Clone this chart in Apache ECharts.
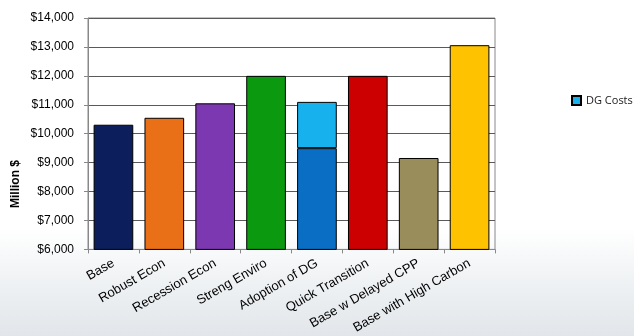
<!DOCTYPE html>
<html>
<head>
<meta charset="utf-8">
<script src="https://cdn.jsdelivr.net/npm/echarts@6/dist/echarts.min.js"></script>
<style>
  html, body { margin: 0; padding: 0; background: #ffffff; }
  #chart { width: 634px; height: 336px; }
</style>
</head>
<body>
<div id="chart"></div>
<script>
// Scenario cost comparison (Million $)
const categories = ['Base', 'Robust Econ', 'Recession Econ', 'Streng Enviro', 'Adoption of DG', 'Quick Transition', 'Base w Delayed CPP', 'Base with High Carbon'];
const baseCosts = [10310, 10550, 11050, 12000, 9500, 12000, 9160, 13060];
const dgCosts = [0, 0, 0, 0, 1600, 0, 0, 0];
const barColors = ['#0c1f5c', '#ea7018', '#7b38b0', '#0a990f', '#0a6fc4', '#cc0000', '#9a8d5c', '#ffc200'];
const dgColor = '#17b2ee';
const yTicks = { min: 6000, max: 14000, step: 1000 };

const chart = echarts.init(document.getElementById('chart'), null, { renderer: 'canvas' });

const fmt = v => '$' + v.toLocaleString('en-US');

chart.setOption({
  animation: false,
  textStyle: { fontFamily: 'Liberation Sans, Arial, sans-serif' },
  graphic: [
    {
      type: 'rect', z: -10, silent: true,
      shape: { x: 0, y: 0, width: 634, height: 336 },
      style: {
        fill: new echarts.graphic.LinearGradient(0, 0, 0, 1, [
          { offset: 0, color: '#ffffff' },
          { offset: 0.68, color: '#ffffff' },
          { offset: 0.85, color: '#eef1f3' },
          { offset: 1, color: '#e2e6ea' }
        ])
      }
    },
    {
      type: 'text', left: 10, top: 160, rotation: Math.PI / 2,
      style: { text: 'Million $', font: 'bold 12px Liberation Sans, Arial, sans-serif', fill: '#000' }
    }
  ],
  legend: {
    data: [{ name: 'DG Costs', icon: 'rect' }],
    left: 566, top: 90,
    itemWidth: 9, itemHeight: 9, itemGap: 6,
    textStyle: { fontSize: 11, color: '#1a1a1a', fontFamily: 'Open Sans, Liberation Sans, sans-serif' },
    selectedMode: false
  },
  grid: { left: 88, right: 139, top: 18, bottom: 86, show: true, borderColor: '#888', borderWidth: 1 },
  xAxis: {
    type: 'category',
    data: categories,
    axisLine: { lineStyle: { color: '#888' } },
    axisTick: { show: true, alignWithLabel: false, lineStyle: { color: '#888' }, length: 4 },
    axisLabel: { rotate: 30, fontSize: 13, color: '#000', interval: 0, margin: 13 }
  },
  yAxis: {
    type: 'value',
    min: yTicks.min, max: yTicks.max, interval: yTicks.step,
    axisLine: { show: true, lineStyle: { color: '#888' } },
    axisTick: { show: true, lineStyle: { color: '#888' }, length: 4 },
    splitLine: { lineStyle: { color: '#5a5a5a', width: 1 } },
    axisLabel: { formatter: fmt, fontSize: 12, color: '#000', margin: 14 }
  },
  series: [
    {
      name: 'Total',
      type: 'bar',
      stack: 'cost',
      barCategoryGap: '22%',
      data: baseCosts.map((v, i) => ({ value: v, itemStyle: { color: barColors[i] } })),
      itemStyle: { borderColor: '#000', borderWidth: 1 }
    },
    {
      name: 'DG Costs',
      type: 'bar',
      stack: 'cost',
      barCategoryGap: '22%',
      data: dgCosts.map(v => (v > 0 ? v : '-')),
      itemStyle: { color: dgColor, borderColor: '#000', borderWidth: 1 }
    }
  ]
});
</script>
</body>
</html>
